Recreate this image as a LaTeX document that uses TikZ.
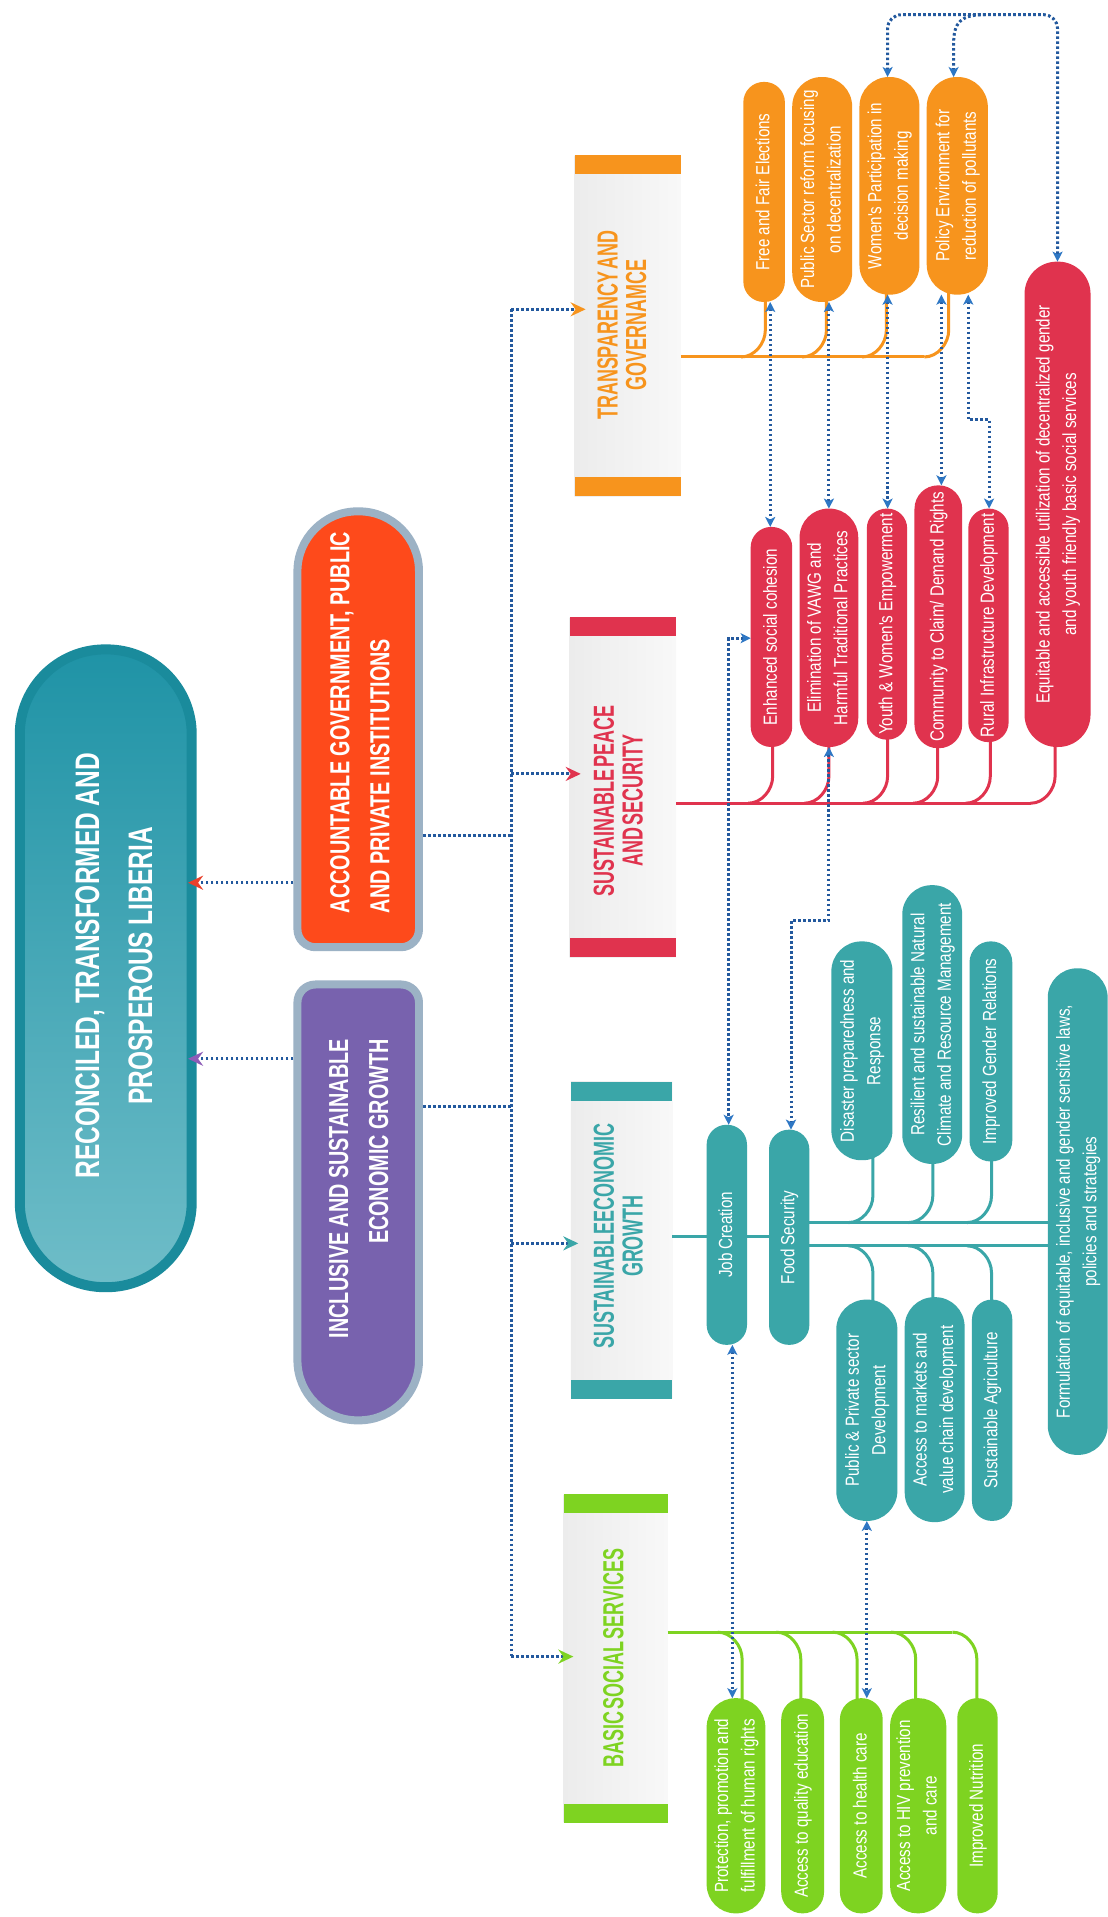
\documentclass[tikz,border=0pt]{standalone}
\usepackage{fontspec}
\usepackage{graphicx}
\usetikzlibrary{arrows.meta,calc}
\newfontfamily\bigfont{Liberation Sans}[FakeStretch=0.72]
\newfontfamily\hfont{Liberation Sans}[FakeStretch=0.62,WordSpace=0.4]
\newfontfamily\pfont{Liberation Sans}[FakeStretch=0.8]

\definecolor{catO}{HTML}{F7941D}
\definecolor{catR}{HTML}{E0334E}
\definecolor{catT}{HTML}{3AA6A8}
\definecolor{catG}{HTML}{7ED321}
\definecolor{dotc}{HTML}{23599E}
\definecolor{tipb}{HTML}{2E77C4}
\definecolor{mainb}{HTML}{1A8B9C}
\definecolor{mainT}{HTML}{1F93A6}
\definecolor{mainB}{HTML}{6FBDC8}
\definecolor{obfill}{HTML}{FE4A1B}
\definecolor{pbfill}{HTML}{7862AE}
\definecolor{boxb}{HTML}{9CB2C5}
\definecolor{tipRed}{HTML}{E8412C}
\definecolor{tipPur}{HTML}{8E5DB8}
\definecolor{grayA}{HTML}{ECECEC}
\definecolor{grayB}{HTML}{F8F8F8}

\pgfdeclarelayer{bg}
\pgfdeclarelayer{lines}
\pgfdeclarelayer{fg}
\pgfsetlayers{bg,lines,main,fg}

\tikzset{
  bluetip/.tip={Stealth[length=10pt,width=10pt,inset=2.5pt,color=tipb]},
  tipOr/.tip={Stealth[length=15pt,width=14pt,inset=5pt,color=catO]},
  tipRd/.tip={Stealth[length=15pt,width=14pt,inset=5pt,color=catR]},
  tipTl/.tip={Stealth[length=15pt,width=14pt,inset=5pt,color=catT]},
  tipGr/.tip={Stealth[length=15pt,width=14pt,inset=5pt,color=catG]},
  tipTop/.tip={Stealth[length=15pt,width=14pt,inset=5pt,color=tipRed]},
  tipPp/.tip={Stealth[length=15pt,width=14pt,inset=5pt,color=tipPur]},
  dotblue/.style={draw=dotc, line width=3pt, dash pattern=on 2.6pt off 2.4pt},
  pillnode/.style={rectangle, inner sep=0pt, outer sep=0pt, text=white, font=\pfont\fontsize{19}{26.5}\selectfont},
  headtext/.style={inner sep=0pt, font=\hfont\bfseries\fontsize{29}{28}\selectfont},
  bigtext/.style={inner sep=0pt, text=white, font=\bigfont\bfseries\fontsize{34}{53}\selectfont},
  midtext/.style={inner sep=0pt, text=white, font=\bigfont\bfseries\fontsize{27.5}{40}\selectfont},
  fanO/.style={draw=catO, line width=3pt},
  fanR/.style={draw=catR, line width=3pt},
  fanT/.style={draw=catT, line width=3pt},
  fanG/.style={draw=catG, line width=3pt},
}

\newcommand{\vtext}[2]{\rotatebox{90}{\begin{tabular}{@{}#1@{}}#2\end{tabular}}}

\newcommand{\pill}[7]{%
  \node[pillnode, fill=#6, minimum width={(#4-#2)*1.223pt}, minimum height={(#5-#3)*1.223pt}, rounded corners={(#4-#2)*0.6pt}] (#1) at ({(#2+#4)/2},{(#3+#5)/2}) {\vtext{c}{#7}};}

\newcommand{\catbox}[6]{%
  \node[rectangle, inner sep=0pt, outer sep=0pt, left color=grayA, right color=grayB, minimum width={(#4-#2)*1.223pt}, minimum height={(#5-#3)*1.223pt}] (#1) at ({(#2+#4)/2},{(#3+#5)/2}) {};
  \fill[#6] (#1.north west) rectangle ([yshift=-19pt]#1.north east);
  \fill[#6] (#1.south west) rectangle ([yshift=19pt]#1.south east);}

% style, stem x, line y, pill name
\newcommand{\fanup}[4]{%
  \draw[#1] ($(#2,#3)+(-20,0)$) .. controls ($(#2,#3)+(-9,0)$) and ($(#2,#3)+(0,-11)$) .. ($(#2,#3)+(0,-22)$) -- ($(#2,0 |- #4.south)+(0,-8)$);}
\newcommand{\fandown}[4]{%
  \draw[#1] ($(#2,#3)+(-20,0)$) .. controls ($(#2,#3)+(-9,0)$) and ($(#2,#3)+(0,11)$) .. ($(#2,#3)+(0,22)$) -- ($(#2,0 |- #4.north)+(0,8)$);}

\begin{document}
\begin{tikzpicture}[x=1.223pt, y=-1.223pt]
\useasboundingbox (0,0) rectangle (906,1568);

\begin{pgfonlayer}{bg}
  \fill[white] (0,0) rectangle (906,1568);
  % main goal
  \node[draw=mainb, line width=10pt, top color=mainT, bottom color=mainB, rounded corners=85pt,
        minimum width=172pt, minimum height=638pt, inner sep=0pt, outer sep=0pt] (mn) at (86.5,792) {};
  % category boxes
  \catbox{cT}{470}{127}{557}{406}{catO}
  \catbox{cP}{466}{505}{553}{783}{catR}
  \catbox{cG}{467}{885}{550}{1144}{catT}
  \catbox{cB}{461}{1222}{546}{1491}{catG}
\end{pgfonlayer}

% outcome boxes (regions)
\node[rectangle, inner sep=0pt, outer sep=0pt, minimum width=129.6pt, minimum height=444pt] (ob) at (293,596.5) {};
\node[rectangle, inner sep=0pt, outer sep=0pt, minimum width=129.6pt, minimum height=444pt] (pb) at (293,983.5) {};
\begin{pgfonlayer}{bg}
  \path[draw=boxb, line width=8pt, fill=obfill]
    ([xshift=4pt]ob.west) [rounded corners=60pt] -- ([shift={(4pt,-4pt)}]ob.north west) -- ([shift={(-4pt,-4pt)}]ob.north east) -- ([xshift=-4pt]ob.east)
    [rounded corners=18pt] -- ([shift={(-4pt,4pt)}]ob.south east) -- ([shift={(4pt,4pt)}]ob.south west) -- cycle;
  \path[draw=boxb, line width=8pt, fill=pbfill]
    ([xshift=4pt]pb.west) [rounded corners=18pt] -- ([shift={(4pt,-4pt)}]pb.north west) -- ([shift={(-4pt,-4pt)}]pb.north east) -- ([xshift=-4pt]pb.east)
    [rounded corners=60pt] -- ([shift={(-4pt,4pt)}]pb.south east) -- ([shift={(4pt,4pt)}]pb.south west) -- cycle;
\end{pgfonlayer}

% texts of big boxes
\node[bigtext] (mnt) at (94,790) {\vtext{c}{RECONCILED, TRANSFORMED AND\\PROSPEROUS LIBERIA}};
\node[midtext, anchor=south] (obt) at (295.5,747) {\vtext{l}{ACCOUNTABLE GOVERNMENT, PUBLIC\\AND PRIVATE INSTITUTIONS}};
\node[midtext, anchor=north] (pbt) at (294.5,850) {\vtext{r}{INCLUSIVE AND SUSTAINABLE\\ECONOMIC GROWTH}};

% category headings
\node[headtext, text=catO] (tT) at (512,266) {\vtext{c}{TRANSPARENCY AND\\GOVERNAMCE}};
\node[headtext, text=catR] (tP) at (509,655) {\vtext{c}{SUSTAINABLE PEACE\\AND SECURITY}};
\node[headtext, text=catT] (tG) at (509,1011) {\vtext{c}{SUSTAINABLEECONOMIC\\GROWTH}};
\node[headtext, text=catG] (tB) at (505,1356) {\vtext{c}{BASIC SOCIAL SERVICES}};

% orange pills
\pill{P1}{608}{67}{642}{247}{catO}{Free and Fair Elections}
\pill{P2}{648}{63}{697}{247}{catO}{Public Sector reform focusing\\on decentralization}
\pill{P3}{703}{63}{752}{241}{catO}{Women's Participation in\\decision making}
\pill{P4}{758}{63}{808}{241}{catO}{Policy Environment for\\reduction of pollutants}
% red pills
\pill{R1}{614}{431}{648}{611}{catR}{Enhanced social cohesion}
\pill{R2}{654}{416}{702}{611}{catR}{Elimination of VAWG and\\Harmful Traditional Practices}
\pill{R3}{709}{416}{742}{605}{catR}{Youth \& Women's Empowerment}
\pill{R4}{748}{397}{787}{612}{catR}{Community to Claim/ Demand Rights}
\pill{R5}{792}{416}{825}{607}{catR}{Rural Infrastructure Development}
\pill{R6}{838}{214}{892}{611}{catR}{Equitable and accessible utilization of decentralized gender\\and youth friendly basic social services}
% teal pills
\pill{J}{578}{920}{611}{1100}{catT}{Job Creation}
\pill{F}{629}{924}{662}{1100}{catT}{Food Security}
\pill{D}{680}{770}{730}{949}{catT}{Disaster preparedness and\\Response}
\pill{Rs}{738}{724}{787}{952}{catT}{Resilient and sustainable Natural\\Climate and Resource Management}
\pill{IG}{793}{770}{828}{950}{catT}{Improved Gender Relations}
\pill{PP}{684}{1063}{734}{1244}{catT}{Public \& Private sector\\Development}
\pill{AM}{740}{1061}{789}{1245}{catT}{Access to markets and\\value chain development}
\pill{SA}{795}{1063}{828}{1244}{catT}{Sustainable Agriculture}
\pill{FO}{857}{792}{906}{1190}{catT}{Formulation of equitable, inclusive and gender sensitive laws,\\policies and strategies}
% green pills
\pill{G1}{578}{1389}{626}{1565}{catG}{Protection, promotion and\\fulfillment of human rights}
\pill{G2}{639}{1389}{674}{1565}{catG}{Access to quality education}
\pill{G3}{687}{1389}{722}{1565}{catG}{Access to health care}
\pill{G4}{728}{1389}{774}{1565}{catG}{Access to HIV prevention\\and care}
\pill{G5}{783}{1389}{816}{1565}{catG}{Improved Nutrition}

% fans (behind pills)
\begin{pgfonlayer}{lines}
  \draw[fanO] (cT.east |- 0,292) -- (756,292);
  \fanup{fanO}{626}{292}{P1}
  \fanup{fanO}{676}{292}{P2}
  \fanup{fanO}{725}{292}{P3}
  \fanup{fanO}{776}{292}{P4}
  \draw[fanR] (cP.east |- 0,657) -- (843,657);
  \fanup{fanR}{632}{657}{R1}
  \fanup{fanR}{678}{657}{R2}
  \fanup{fanR}{726}{657}{R3}
  \fanup{fanR}{767}{657}{R4}
  \fanup{fanR}{810}{657}{R5}
  \fanup{fanR}{863}{657}{R6}
  \draw[fanT] (cG.east |- 0,1011) -- (F.east |- 0,1011);
  \draw[fanT] (F.east |- 0,1000) -- (FO.west |- 0,1000);
  \draw[fanT] (F.east |- 0,1019) -- (FO.west |- 0,1019);
  \fanup{fanT}{714}{1000}{D}
  \fanup{fanT}{763}{1000}{Rs}
  \fanup{fanT}{811}{1000}{IG}
  \fandown{fanT}{714}{1019}{PP}
  \fandown{fanT}{763}{1019}{AM}
  \fandown{fanT}{811}{1019}{SA}
  \draw[fanG] (cB.east |- 0,1335) -- (779,1335);
  \fandown{fanG}{607}{1335}{G1}
  \fandown{fanG}{655}{1335}{G2}
  \fandown{fanG}{701}{1335}{G3}
  \fandown{fanG}{749}{1335}{G4}
  \fandown{fanG}{799}{1335}{G5}
\end{pgfonlayer}

% dotted connectors
\begin{pgfonlayer}{fg}
  \coordinate (jT) at (418,253);
  \coordinate (jP) at (418,633);
  \coordinate (jG) at (418,1017);
  \coordinate (jB) at (418,1355);
  \draw[dotblue] (jT) -- (jB);
  \draw[dotblue, -{tipOr}] (jT) -- ($(cT.west |- jT)+(9,0)$);
  \draw[dotblue, -{tipRd}] (jP) -- ($(cP.west |- jP)+(9,0)$);
  \draw[dotblue, -{tipTl}] (jG) -- ($(cG.west |- jG)+(6,0)$);
  \draw[dotblue, -{tipGr}] (jB) -- ($(cB.west |- jB)+(8,0)$);
  \draw[dotblue] (ob.east |- 0,683) -- (jT |- 0,683);
  \draw[dotblue] (pb.east |- 0,905) -- (jT |- 0,905);
  \draw[dotblue, -{tipTop}] (ob.west |- 0,722) -- ($(mn.east |- 0,722)+(-3,0)$);
  \draw[dotblue, -{tipPp}] (pb.west |- 0,866) -- ($(mn.east |- 0,866)+(-3,0)$);

  \draw[dotblue, {bluetip}-{bluetip}] (630,0 |- P1.south) -- (630,0 |- R1.north);
  \draw[dotblue, {bluetip}-{bluetip}] (678,0 |- P2.south) -- (678,0 |- R2.north);
  \draw[dotblue, {bluetip}-{bluetip}] (726,0 |- P3.south) -- (726,0 |- R3.north);
  \draw[dotblue, {bluetip}-{bluetip}] (770,0 |- P4.south) -- (770,0 |- R4.north);
  \draw[dotblue, {bluetip}-{bluetip}] (792,0 |- P4.south) -- (792,343) -- (809,343) -- (809,0 |- R5.north);
  \draw[dotblue, {bluetip}-{bluetip}, rounded corners=14pt] (726,0 |- P3.north) -- (726,12) -- (865,12) -- (865,0 |- R6.north);
  \draw[dotblue, -{bluetip}] (806,12) .. controls (786,12) and (780,18) .. (780,36) -- (780,0 |- P4.north);
  \draw[dotblue, {bluetip}-{bluetip}] (R1.west |- 0,522) -- (596,522) -- (596,0 |- J.north);
  \draw[dotblue, {bluetip}-{bluetip}] (678,0 |- R2.south) -- (678,753) -- (647,753) -- (647,0 |- F.north);
  \draw[dotblue, {bluetip}-{bluetip}] (599,0 |- J.south) -- (599,0 |- G1.north);
  \draw[dotblue, {bluetip}-{bluetip}] (709,0 |- PP.south) -- (709,0 |- G3.north);
\end{pgfonlayer}
\end{tikzpicture}
\end{document}
